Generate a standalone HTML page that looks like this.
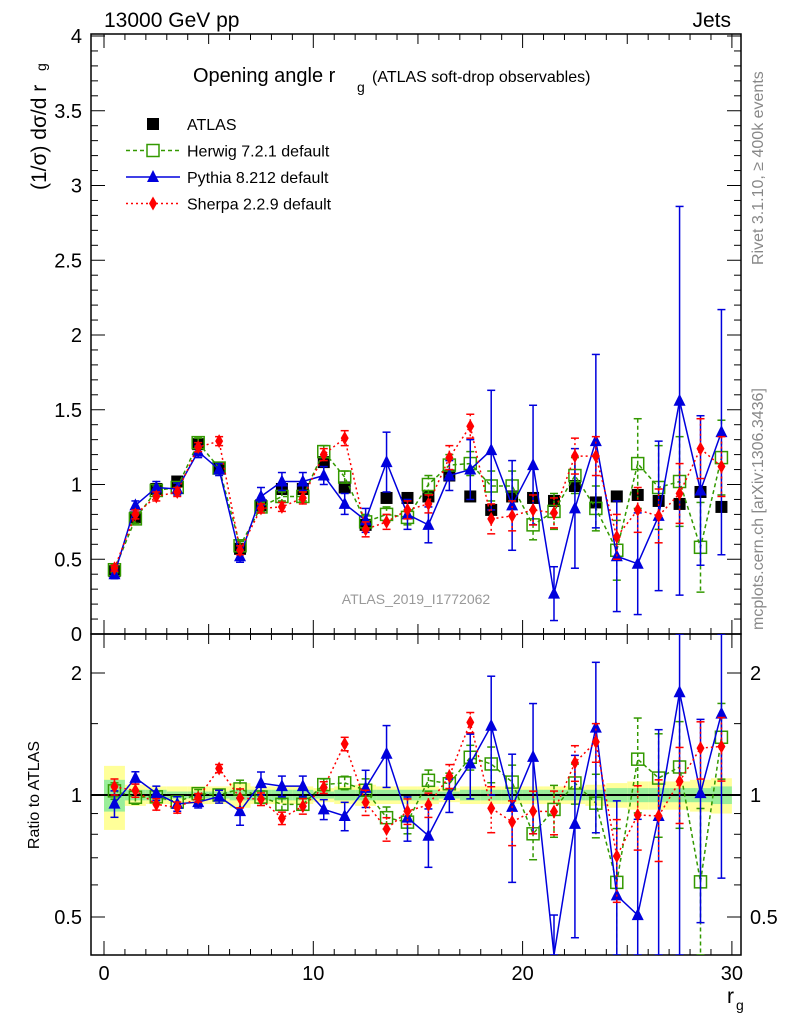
<!DOCTYPE html>
<html><head><meta charset="utf-8"><style>
body{margin:0;background:#fff;}
svg{display:block;font-family:"Liberation Sans",sans-serif;}
</style></head><body>
<svg id="c" width="786" height="1024" xmlns="http://www.w3.org/2000/svg"></svg>
<script>
const bins=[0.5,1.5,2.5,3.5,4.5,5.5,6.5,7.5,8.5,9.5,10.5,11.5,12.5,13.5,14.5,15.5,16.5,17.5,18.5,19.5,20.5,21.5,22.5,23.5,24.5,25.5,26.5,27.5,28.5,29.5];
const atlas=[0.42,0.78,0.97,1.02,1.27,1.11,0.57,0.86,0.97,0.97,1.15,0.98,0.73,0.91,0.91,0.92,1.06,0.92,0.83,0.92,0.91,0.89,0.99,0.88,0.92,0.93,0.89,0.87,0.95,0.85];
const atlasTotRel=[0.18,0.06,0.05,0.05,0.05,0.05,0.07,0.05,0.05,0.05,0.04,0.05,0.06,0.05,0.05,0.05,0.04,0.05,0.05,0.05,0.05,0.05,0.05,0.06,0.07,0.08,0.08,0.08,0.09,0.1];
const atlasStatRel=[0.09,0.03,0.03,0.02,0.02,0.02,0.03,0.03,0.03,0.03,0.02,0.03,0.03,0.03,0.03,0.03,0.02,0.03,0.03,0.03,0.03,0.03,0.03,0.03,0.04,0.04,0.04,0.04,0.04,0.05];
const herwig=[0.43,0.77,0.96,0.98,1.28,1.11,0.59,0.85,0.92,0.92,1.22,1.05,0.75,0.80,0.78,1.00,1.13,1.14,0.99,0.99,0.73,0.82,1.06,0.84,0.56,1.14,0.98,1.02,0.58,1.18];
const herwigErr=[0.02,0.03,0.03,0.03,0.03,0.03,0.03,0.03,0.03,0.03,0.04,0.04,0.05,0.05,0.05,0.06,0.07,0.08,0.1,0.1,0.1,0.12,0.12,0.15,0.2,0.3,0.28,0.3,0.3,0.25];
const pythia=[0.40,0.86,0.98,0.97,1.22,1.10,0.52,0.92,1.02,1.02,1.06,0.87,0.76,1.15,0.80,0.73,1.06,1.10,1.23,0.86,1.13,0.27,0.84,1.29,0.52,0.47,0.79,1.56,0.96,1.35];
const pythiaErr=[0.03,0.03,0.04,0.04,0.04,0.04,0.04,0.06,0.06,0.06,0.06,0.07,0.08,0.2,0.1,0.12,0.1,0.2,0.4,0.3,0.4,0.18,0.4,0.58,0.37,0.34,0.5,1.3,0.5,0.82];
const sherpa=[0.44,0.80,0.92,0.95,1.25,1.29,0.56,0.84,0.85,0.91,1.20,1.31,0.70,0.75,0.83,0.87,1.18,1.39,0.77,0.79,0.83,0.81,1.19,1.19,0.65,0.83,0.79,0.94,1.24,1.12];
const sherpaErr=[0.02,0.03,0.03,0.03,0.03,0.03,0.03,0.03,0.03,0.04,0.04,0.05,0.05,0.05,0.06,0.06,0.08,0.08,0.1,0.1,0.1,0.1,0.12,0.13,0.15,0.15,0.18,0.2,0.2,0.2];
const xTicks=[0,10,20,30];
const yTicks=[0,0.5,1,1.5,2,2.5,3,3.5,4];
const rTicks=[0.5,1,2];

const NS="http://www.w3.org/2000/svg";
const svg=document.getElementById('c');
const L=91,R=741,T=34,M=634,B=955;
const X=v=>104+v*20.93;
const Y=v=>Math.min(634,Math.max(34,634-v*149.5));
const RY=v=>Math.min(B,Math.max(M,795-Math.log2(v)*122));
function el(tag,a,parent){const e=document.createElementNS(NS,tag);for(const k in a)e.setAttribute(k,a[k]);(parent||svg).appendChild(e);return e;}
function txt(s,a){const e=el('text',a);e.textContent=s;return e;}

const gBand=el('g',{});


bins.forEach((b,i)=>{
  const ty=atlasTotRel[i], sy=atlasStatRel[i];
  const r1=el('rect',{x:X(b-0.5),y:RY(1+ty),width:20.93,height:RY(1-ty)-RY(1+ty),fill:'#ffff99'},gBand);
  
  
  const r2=el('rect',{x:X(b-0.5),y:RY(1+sy),width:20.93,height:RY(1-sy)-RY(1+sy),fill:'#99ee99'},gBand);
  
  
});
el('line',{x1:L,x2:R,y1:RY(1),y2:RY(1),stroke:'#000','stroke-width':2});

const f1=el('rect',{x:L,y:T,width:R-L,height:M-T,fill:'none',stroke:'#000','stroke-width':1.5});

const f2=el('rect',{x:L,y:M,width:R-L,height:B-M,fill:'none',stroke:'#000','stroke-width':1.5});


for(let v=0;v<=30.5;v+=1){const big=v%10===0, mid=v%5===0;const len=big?14:(mid?10:6);
  [M,B].forEach(yb=>{el('line',{x1:X(v),x2:X(v),y1:yb,y2:yb-len,stroke:'#000'});el('line',{x1:X(v),x2:X(v),y1:(yb===M?T:M),y2:(yb===M?T:M)+len,stroke:'#000'});});}
xTicks.forEach(v=>{const t=txt(v,{x:X(v),y:980,'font-size':20,'text-anchor':'middle'});});
for(let v=0;v<=4.001;v+=0.1){const big=Math.abs(v*2-Math.round(v*2))<1e-6;const len=big?14:7;
  el('line',{x1:L,x2:L+len,y1:Y(v),y2:Y(v),stroke:'#000'});el('line',{x1:R,x2:R-len,y1:Y(v),y2:Y(v),stroke:'#000'});}
yTicks.forEach(v=>{const t=txt(v,{x:82,y:Y(v)+7,'font-size':20,'text-anchor':'end'});});
[0.5,0.6,0.7,0.8,0.9,1,1.5,2].forEach(v=>{const big=rTicks.includes(v);const len=big?14:7;
  el('line',{x1:L,x2:L+len,y1:RY(v),y2:RY(v),stroke:'#000'});el('line',{x1:R,x2:R-len,y1:RY(v),y2:RY(v),stroke:'#000'});});
rTicks.forEach(v=>{const a=txt(v,{x:82,y:RY(v)+7,'font-size':20,'text-anchor':'end'});
  const b=txt(v,{x:750,y:RY(v)+7,'font-size':20});});

function series(vals,errs,color,dash,marker,name,ratio){
  const g=el('g',{});
  
  
  const yf=ratio?(v=>RY(v)):Y;
  const vv=vals.map((v,i)=>ratio?v/atlas[i]:v);
  const ee=errs?errs.map((e,i)=>ratio?e/atlas[i]:e):null;
  const pts=bins.map((b,i)=>X(b)+','+yf(vv[i])).join(' ');
  if(color!=='#000'){const p=el('polyline',{points:pts,fill:'none',stroke:color,'stroke-width':1.5},g);if(dash)p.setAttribute('stroke-dasharray',dash);}
  bins.forEach((b,i)=>{
    if(ee){const y1=yf(vv[i]+ee[i]),y2=yf(Math.max(0.01,vv[i]-ee[i]));
      const l=el('line',{x1:X(b),x2:X(b),y1:y1,y2:y2,stroke:color,'stroke-width':1.5},g);if(dash)l.setAttribute('stroke-dasharray',dash);
      el('line',{x1:X(b)-4,x2:X(b)+4,y1:y1,y2:y1,stroke:color,'stroke-width':1.5},g);
      el('line',{x1:X(b)-4,x2:X(b)+4,y1:y2,y2:y2,stroke:color,'stroke-width':1.5},g);}
    const cx=X(b),cy=yf(vv[i]);
    if(ratio&&(vv[i]<0.4||vv[i]>2.5))return;
    let m;
    if(marker==='sq')m=el('rect',{x:cx-6,y:cy-6,width:12,height:12,fill:'#000'},g);
    else if(marker==='osq')m=el('rect',{x:cx-6,y:cy-6,width:12,height:12,fill:'none',stroke:color,'stroke-width':1.5},g);
    else if(marker==='tri')m=el('polygon',{points:`${cx},${cy-7} ${cx-6},${cy+5} ${cx+6},${cy+5}`,fill:color},g);
    else m=el('polygon',{points:`${cx},${cy-7} ${cx-4},${cy} ${cx},${cy+7} ${cx+4},${cy}`,fill:color},g);
    
    
  });
}
series(atlas,null,'#000',null,'sq','atlas',false);
series(herwig,herwigErr,'#339900','4,3','osq','herwig',false);
series(pythia,pythiaErr,'#0000dd',null,'tri','pythia',false);
series(sherpa,sherpaErr,'#ff0000','2,3','dia','sherpa',false);
const cp=el('clipPath',{id:'rc'});el('rect',{x:L,y:M,width:R-L,height:B-M},cp);
const before=svg.childNodes.length;
series(herwig,herwigErr,'#339900','4,3','osq','herwig',true);
series(pythia,pythiaErr,'#0000dd',null,'tri','pythia',true);
series(sherpa,sherpaErr,'#ff0000','2,3','dia','sherpa',true);
Array.from(svg.childNodes).slice(before).forEach(n=>n.setAttribute('clip-path','url(#rc)'));

function T2(s,a,name){const t=txt(s,a);return t;}
T2('13000 GeV pp',{x:104,y:27,'font-size':21},'beam-label');
T2('Jets',{x:731,y:27,'font-size':21,'text-anchor':'end'},'process-label');
T2('Opening angle r',{x:193,y:82,'font-size':20},'plot-title');
T2('g',{x:357,y:92,'font-size':14},'plot-title-sub');
T2('(ATLAS soft-drop observables)',{x:372,y:82,'font-size':16},'plot-title-extra');
T2('(1/σ) dσ/d r',{x:0,y:0,'font-size':21,transform:'translate(46,190) rotate(-90)'},'y-axis-title');
T2('g',{x:0,y:0,'font-size':14,transform:'translate(46,71) rotate(-90)'},'y-axis-title-sub');
T2('Ratio to ATLAS',{x:0,y:0,'font-size':16,'text-anchor':'middle',transform:'translate(39,795) rotate(-90)'},'ratio-axis-title');
T2('r',{x:727,y:1003,'font-size':21},'x-axis-title');
T2('g',{x:736,y:1010,'font-size':14},'x-axis-title-sub');
T2('Rivet 3.1.10, ≥ 400k events',{x:0,y:0,'font-size':16,fill:'#888',transform:'translate(763,265) rotate(-90)'},'rivet-label');
T2('mcplots.cern.ch [arXiv:1306.3436]',{x:0,y:0,'font-size':16,fill:'#888',transform:'translate(763,630) rotate(-90)'},'mcplots-label');
T2('ATLAS_2019_I1772062',{x:416,y:604,'font-size':14,fill:'#999','text-anchor':'middle'},'analysis-id');
const lg=el('g',{});
const entries=[['ATLAS','#000',null,'sq'],['Herwig 7.2.1 default','#339900','4,3','osq'],['Pythia 8.212 default','#0000dd',null,'tri'],['Sherpa 2.2.9 default','#ff0000','2,3','dia']];
entries.forEach((e,i)=>{const y=124+i*26.5;const cx=153;
  const g=el('g',{},lg);
  if(i>0){const l=el('line',{x1:126,x2:180,y1:y,y2:y,stroke:e[1],'stroke-width':1.5},g);if(e[2])l.setAttribute('stroke-dasharray',e[2]);}
  if(e[3]==='sq')el('rect',{x:cx-6,y:y-6,width:12,height:12,fill:'#000'},g);
  else if(e[3]==='osq')el('rect',{x:cx-6,y:y-6,width:12,height:12,fill:'#fff',stroke:e[1],'stroke-width':1.5},g);
  else if(e[3]==='tri')el('polygon',{points:`${cx},${y-7} ${cx-6},${y+5} ${cx+6},${y+5}`,fill:e[1]},g);
  else el('polygon',{points:`${cx},${y-7} ${cx-4},${y} ${cx},${y+7} ${cx+4},${y}`,fill:e[1]},g);
  const t=el('text',{x:187,y:y+6,'font-size':16},g);t.textContent=e[0];
});
</script>
</body></html>
